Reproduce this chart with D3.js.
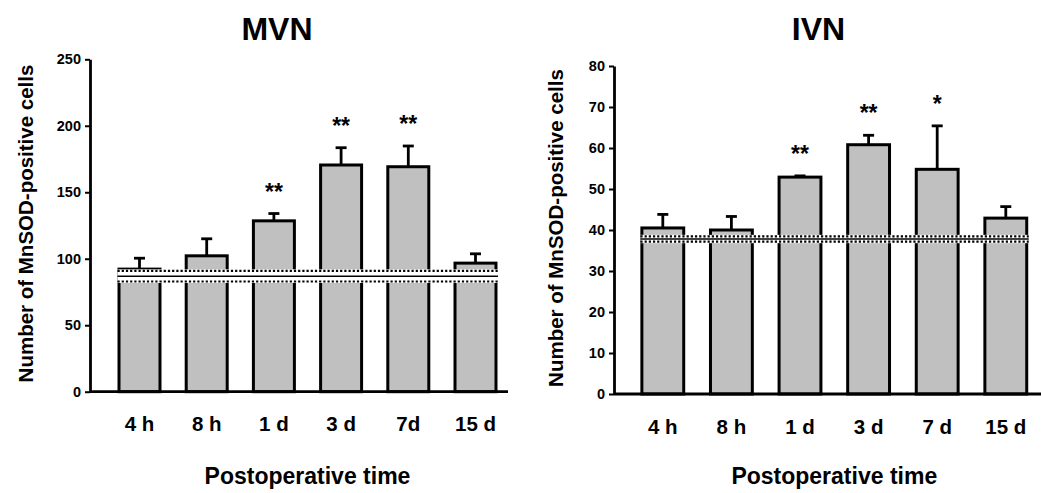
<!DOCTYPE html>
<html>
<head>
<meta charset="utf-8">
<script src="https://cdn.jsdelivr.net/npm/d3@7"></script>
<style>
  body { margin: 0; background: #fff; }
  svg { display: block; font-family: "Liberation Sans", Arial, sans-serif; font-weight: bold; }
</style>
</head>
<body>
<svg id="chart" width="1041" height="493"></svg>
<script>
// MVN panel data
const mvnCategories = ['4 h', '8 h', '1 d', '3 d', '7d', '15 d'];
const mvnMeans = [92.2, 102.2, 128.5, 170.5, 169.2, 96.7];
const mvnErrors = [8.2, 12.8, 5.5, 13.0, 15.6, 7.0];
const mvnStars = ['', '', '**', '**', '**', ''];
const mvnTicks = [0, 50, 100, 150, 200, 250];
const mvnControl = [86.9, 4.0];   // mean, sem

// IVN panel data
const ivnCategories = ['4 h', '8 h', '1 d', '3 d', '7 d', '15 d'];
const ivnMeans = [40.5, 40.0, 52.9, 60.8, 54.8, 42.9];
const ivnErrors = [3.3, 3.3, 0.3, 2.3, 10.6, 2.8];
const ivnStars = ['', '', '**', '**', '*', ''];
const ivnTicks = [0, 10, 20, 30, 40, 50, 60, 70, 80];
const ivnControl = [37.8, 0.65];

const svg = d3.select('#chart');

// Function to draw one bar panel
function drawPanel(p) {
    const g = svg.append('g');

    const x = d3.scaleBand()
        .domain(p.categories)
        .range(p.xRange)
        .paddingInner(0.39)
        .paddingOuter(0.195);

    const y = d3.scaleLinear()
        .domain([0, d3.max(p.ticks)])
        .range(p.yRange);

    const data = p.categories.map((c, i) => ({
        cat: c, mean: p.means[i], err: p.errors[i], star: p.stars[i]
    }));

    // Error bars (upper only)
    g.selectAll('.err')
        .data(data)
        .enter().append('line')
        .attr('x1', d => x(d.cat) + x.bandwidth() / 2)
        .attr('x2', d => x(d.cat) + x.bandwidth() / 2)
        .attr('y1', d => y(d.mean))
        .attr('y2', d => y(d.mean + d.err))
        .attr('stroke', '#000')
        .attr('stroke-width', 2.8);

    g.selectAll('.cap')
        .data(data)
        .enter().append('line')
        .attr('x1', d => x(d.cat) + x.bandwidth() / 2 - 5.5)
        .attr('x2', d => x(d.cat) + x.bandwidth() / 2 + 5.5)
        .attr('y1', d => y(d.mean + d.err))
        .attr('y2', d => y(d.mean + d.err))
        .attr('stroke', '#000')
        .attr('stroke-width', 2.8);

    // Bars
    g.selectAll('.bar')
        .data(data)
        .enter().append('rect')
        .attr('x', d => x(d.cat))
        .attr('y', d => y(d.mean))
        .attr('width', x.bandwidth())
        .attr('height', d => y(0) - y(d.mean))
        .attr('fill', '#c0c0c0')
        .attr('stroke', '#000')
        .attr('stroke-width', 3);

    // Control band: mean (solid) and +/- sem (dotted)
    const bx0 = x(p.categories[0]) - 1.5;
    const bx1 = x(p.categories[p.categories.length - 1]) + x.bandwidth() + 2;
    const cm = p.control[0], cs = p.control[1];
    g.append('rect')
        .attr('x', bx0)
        .attr('y', y(cm + cs) - 1.5)
        .attr('width', bx1 - bx0)
        .attr('height', y(cm - cs) - y(cm + cs) + 3)
        .attr('fill', '#fff');
    [cm + cs, cm - cs].forEach(v => {
        g.append('line')
            .attr('x1', bx0).attr('x2', bx1)
            .attr('y1', y(v)).attr('y2', y(v))
            .attr('stroke', '#000')
            .attr('stroke-width', 2.2)
            .attr('stroke-dasharray', '2.2,2');
    });
    g.append('line')
        .attr('x1', bx0).attr('x2', bx1)
        .attr('y1', y(cm)).attr('y2', y(cm))
        .attr('stroke', '#000')
        .attr('stroke-width', 1.5);

    // Significance stars
    g.selectAll('.star')
        .data(data.filter(d => d.star))
        .enter().append('text')
        .attr('x', d => x(d.cat) + x.bandwidth() / 2)
        .attr('y', d => y(d.mean + d.err) - 14)
        .attr('text-anchor', 'middle')
        .attr('font-size', '23px')
        .text(d => d.star);

    // Y axis
    const yAxis = g.append('g')
        .attr('transform', `translate(${p.axisX},0)`)
        .call(d3.axisLeft(y).tickValues(p.ticks).tickSize(5).tickSizeOuter(0).tickPadding(4));
    yAxis.select('.domain').attr('stroke-width', 2.8);
    yAxis.selectAll('.tick line').attr('stroke-width', 2);
    yAxis.selectAll('.tick text').attr('font-size', '14.5px').attr('font-weight', 'bold');

    // X axis
    const xAxis = g.append('g')
        .attr('transform', `translate(0,${y(0)})`)
        .call(d3.axisBottom(x).tickSize(0).tickPadding(25));
    xAxis.select('.domain').remove();
    xAxis.selectAll('.tick text').attr('font-size', '20.5px').attr('font-weight', 'bold');
    g.append('line')
        .attr('x1', p.axisX).attr('x2', p.axisEnd)
        .attr('y1', y(0)).attr('y2', y(0))
        .attr('stroke', '#000')
        .attr('stroke-width', 2.8);

    // Titles
    g.append('text')
        .attr('x', p.titleX)
        .attr('y', 39.5)
        .attr('text-anchor', 'middle')
        .attr('font-size', '32px')
        .text(p.title);

    g.append('text')
        .attr('transform', `translate(${p.yLabelX},${(p.yRange[0] + p.yRange[1]) / 2 - 2}) rotate(-90)`)
        .attr('text-anchor', 'middle')
        .attr('font-size', '20.5px')
        .text('Number of MnSOD-positive cells');

    g.append('text')
        .attr('x', (p.xRange[0] + p.xRange[1]) / 2)
        .attr('y', 484)
        .attr('text-anchor', 'middle')
        .attr('font-size', '23px')
        .text('Postoperative time');
}

drawPanel({
    title: 'MVN', categories: mvnCategories, means: mvnMeans, errors: mvnErrors,
    stars: mvnStars, ticks: mvnTicks, control: mvnControl,
    xRange: [105.9, 509.1], yRange: [391.7, 59.3],
    axisX: 90, axisEnd: 508, titleX: 277, yLabelX: 33
});

drawPanel({
    title: 'IVN', categories: ivnCategories, means: ivnMeans, errors: ivnErrors,
    stars: ivnStars, ticks: ivnTicks, control: ivnControl,
    xRange: [628.5, 1040.1], yRange: [394, 66],
    axisX: 614, axisEnd: 1041, titleX: 818.5, yLabelX: 563
});
</script>
</body>
</html>
